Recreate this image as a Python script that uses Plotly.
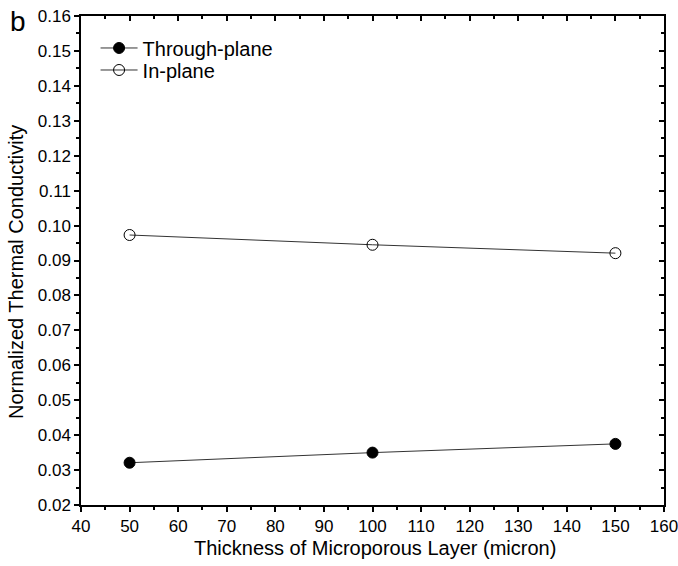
import plotly.graph_objects as go

thickness = [50, 100, 150]
through_plane = [0.0321, 0.0350, 0.0375]
in_plane = [0.0973, 0.0945, 0.0921]

xticks = list(range(40, 161, 10))
yticks = [round(0.02 + 0.01 * i, 2) for i in range(15)]

fig = go.Figure()
fig.add_trace(go.Scatter(x=thickness, y=through_plane, mode="lines+markers", name="Through-plane",
                         legend="legend",
                         line=dict(color="#333333", width=1),
                         marker=dict(symbol="circle", size=11, color="black", line=dict(color="black", width=1))))
fig.add_trace(go.Scatter(x=thickness, y=in_plane, mode="lines+markers", name="In-plane",
                         legend="legend2",
                         line=dict(color="#333333", width=1),
                         marker=dict(symbol="circle-open", size=11, color="black", line=dict(width=1))))
# dummy trace for mirrored axes
fig.add_trace(go.Scatter(x=[40], y=[0.02], xaxis="x2", yaxis="y2", mode="markers",
                         marker=dict(opacity=0), showlegend=False, hoverinfo="skip"))

font = "Liberation Sans, Arial, sans-serif"
common = dict(ticklen=5, tickwidth=1.5, tickcolor="black", showline=True, linecolor="black",
              linewidth=1.5, showgrid=False, zeroline=False, automargin=False)
leg = dict(xanchor="left", yanchor="middle", bgcolor="rgba(0,0,0,0)",
           font=dict(size=20, family=font), itemwidth=37)
fig.update_layout(
    width=678, height=566,
    margin=dict(l=81, r=14, t=16, b=61),
    paper_bgcolor="white", plot_bgcolor="white",
    font=dict(family=font, size=17, color="black"),
    showlegend=True,
    legend=dict(x=0.025, y=0.9346, **leg),
    legend2=dict(x=0.025, y=0.8896, **leg),
    xaxis=dict(range=[40, 160], tickvals=xticks, ticktext=[str(v) for v in xticks], ticks="outside",
               minor=dict(dtick=5, ticks="outside", ticklen=3, tickwidth=1.5, tickcolor="black"),
               tickfont=dict(size=17), ticklabeloverflow="allow", **common),
    yaxis=dict(range=[0.02, 0.16], tickvals=yticks, ticktext=["%.2f" % v for v in yticks], ticks="outside",
               minor=dict(dtick=0.005, ticks="outside", ticklen=3, tickwidth=1.5, tickcolor="black"),
               tickfont=dict(size=17), ticklabeloverflow="allow", **common),
    xaxis2=dict(range=[40, 160], overlaying="x", side="top", tickvals=xticks, showticklabels=False,
                ticks="inside",
                minor=dict(dtick=5, ticks="inside", ticklen=3, tickwidth=1.5, tickcolor="black"),
                **common),
    yaxis2=dict(range=[0.02, 0.16], overlaying="y", side="right", tickvals=yticks, showticklabels=False,
                ticks="inside",
                minor=dict(dtick=0.005, ticks="inside", ticklen=3, tickwidth=1.5, tickcolor="black"),
                **common),
    annotations=[
        dict(text="b", x=-0.125, y=1.025, xref="paper", yref="paper", showarrow=False,
             xanchor="left", yanchor="top", font=dict(size=28, family=font)),
        dict(text="Thickness of Microporous Layer (micron)", x=0.505, y=0, yshift=-43,
             xref="paper", yref="paper", showarrow=False, xanchor="center", yanchor="middle",
             font=dict(size=20, family=font)),
        dict(text="Normalized Thermal Conductivity", x=0, xshift=-65, y=0.4765,
             xref="paper", yref="paper", showarrow=False, xanchor="center", yanchor="middle",
             textangle=-90, font=dict(size=20, family=font)),
    ],
)
fig.write_html("out.html", config={"displayModeBar": False},
               post_script="document.body.style.margin='0';document.body.style.overflow='hidden';")
